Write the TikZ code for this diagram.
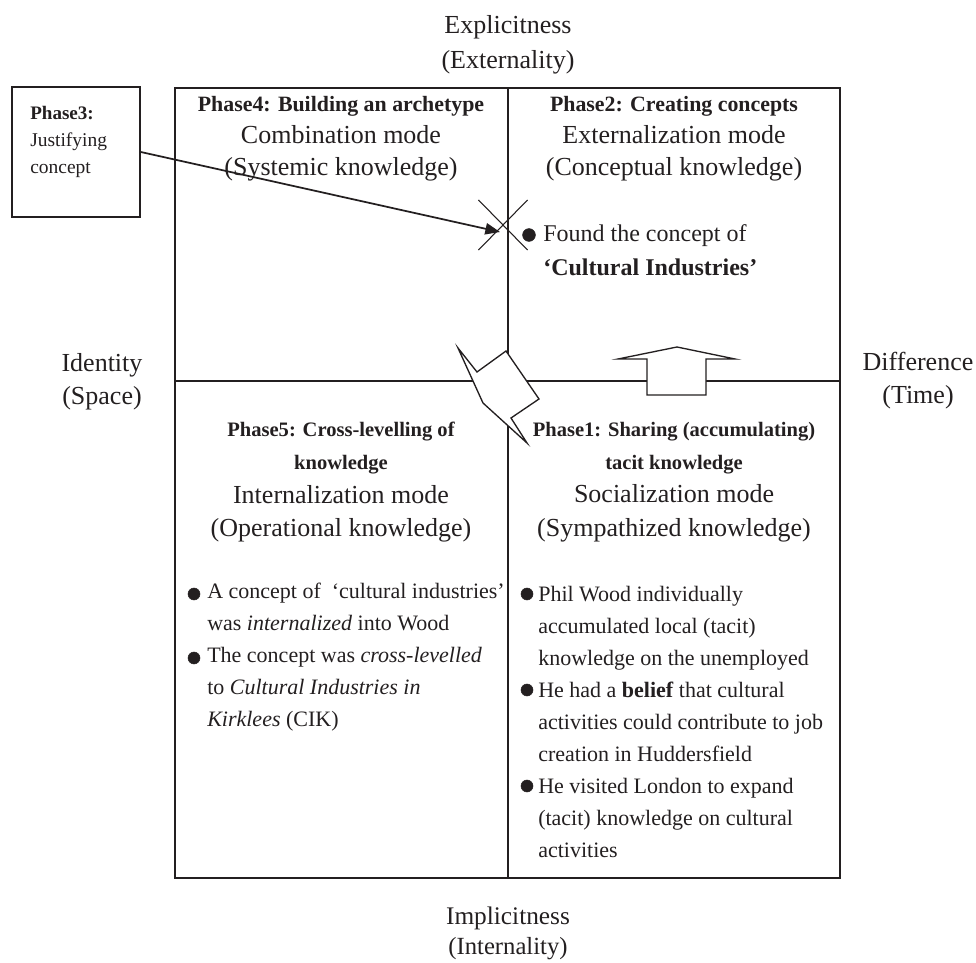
\documentclass[tikz,border=0pt]{standalone}
\usepackage{fontspec}
\setmainfont{Liberation Serif}
\usetikzlibrary{arrows.meta,shapes.misc}
\definecolor{ink}{RGB}{35,31,32}
\newcommand{\phasehd}{\fontsize{16.4}{24}\selectfont\bfseries}
\newcommand{\phaselow}{\fontsize{15.4}{24}\selectfont\bfseries}

\tikzset{
	quad/.style={align=center, inner sep=0pt, text=ink, font=\fontsize{19.5}{24}\selectfont},
	axislabel/.style={align=center, inner sep=0pt, text=ink, font=\fontsize{19.5}{24.75}\selectfont},
	items/.style={align=left, anchor=west, inner sep=0pt, text=ink, font=\fontsize{16.5}{24}\selectfont},
	grid line/.style={ink, line width=1.5pt},
	block/.style={ink, line width=1pt, fill=white},
}

\begin{document}
\begin{tikzpicture}[x=0.75pt,y=-0.75pt]
			\useasboundingbox (0,0) rectangle (976,963);
			% the four quadrants
			\draw[grid line] (175,88) rectangle (840,878);
			\draw[grid line] (508,88) -- (508,878);
			\draw[grid line] (175,381) -- (840,381);
			
			\node[axislabel, font=\fontsize{19.5}{26.25}\selectfont] (expl) at (508,45) {Explicitness\\(Externality)};
			\node[axislabel, font=\fontsize{19}{22.5}\selectfont] (impl) at (508,933) {Implicitness\\{\fontsize{18.5}{22.5}\selectfont(Internality)}};
			\node[axislabel] (iden) at (102,382) {Identity\\(Space)};
			\node[axislabel] (diff) at (918,381) {Difference\\(Time)};
			
			\node[quad] (q4) at (341,139) {{\phasehd Phase4: Building an archetype}\\Combination mode\\(Systemic knowledge)};
			\node[quad] (q2) at (674,139) {{\phasehd Phase2: Creating concepts}\\Externalization mode\\(Conceptual knowledge)};
			\node[quad, font=\fontsize{19.5}{25}\selectfont] (q5) at (341,482) {{\phaselow Phase5: Cross-levelling of}\\{\phaselow knowledge}\\Internalization mode\\(Operational knowledge)};
			\node[quad, font=\fontsize{19.5}{25}\selectfont] (q1) at (674,482) {{\phaselow Phase1: Sharing (accumulating)}\\{\phaselow tacit knowledge}\\Socialization mode\\(Sympathized knowledge)};
			
			% bullet lists
			\node[items, font=\fontsize{18}{25.5}\selectfont] (l2) at (543,250) {Found the concept of\\\textbf{‘Cultural Industries’}};
			\node[items] (l5) at (207,657) {A concept of~~‘cultural industries’\\was \textit{internalized} into Wood\\The concept was \textit{cross-levelled}\\to \textit{Cultural Industries in}\\\textit{Kirklees} (CIK)};
			\node[items] (l1) at (538,722) {Phil Wood individually\\accumulated local (tacit)\\knowledge on the unemployed\\He had a \textbf{belief} that cultural\\activities could contribute to job\\creation in Huddersfield\\He visited London to expand\\(tacit) knowledge on cultural\\activities};
			\filldraw[ink] (529,235) circle [radius=4.8pt];
			\filldraw[ink] (194,594) circle [radius=4.5pt];
			\filldraw[ink] (194,658) circle [radius=4.5pt];
			\filldraw[ink] (527,594) circle [radius=4.5pt];
			\filldraw[ink] (527,690) circle [radius=4.5pt];
			\filldraw[ink] (527,786) circle [radius=4.5pt];
			
			% moves between the modes
			\draw[block] (618,359) -- (677,347) -- (735,359) -- (706,359) -- (706,395) -- (647,395) -- (647,359) -- cycle;
			\draw[block] (458,348) -- (477,372) -- (506,351) -- (539,399) -- (511,418) -- (527,443) -- (483,403) -- cycle;
			
			\node[cross out, draw=ink, line width=0.8pt, minimum width=36pt, minimum height=36.75pt, inner sep=0pt] (xmark) at (503,225) {};
			
			\node[draw=ink, line width=1.2pt, minimum width=96pt, minimum height=97.5pt, inner sep=0pt] (p3) at (76,152) {};
			\node[items, font=\fontsize{14.6}{20.25}\selectfont] (p3txt) at (30,142) {{\bfseries\fontsize{14.3}{20.25}\selectfont Phase3:}\\Justifying\\concept};
			\coordinate (tip) at (500,232);
			\draw[ink, line width=1.3pt, -{Triangle[length=11pt,width=8.5pt]}] (p3.east) -- (tip);
		\end{tikzpicture}
\end{document}
